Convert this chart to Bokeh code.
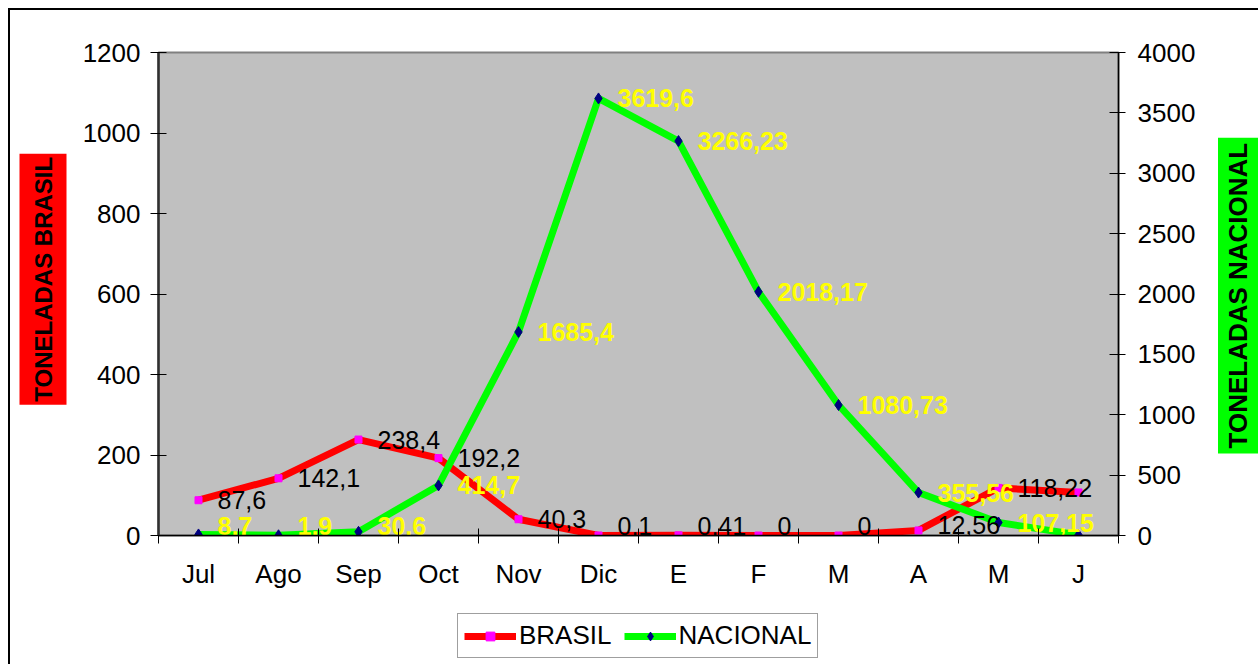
from bokeh.plotting import figure
from bokeh.layouts import row, column
from bokeh.models import (Range1d, LinearAxis, FixedTicker, CustomJSTickFormatter,
                          Label, Legend, LegendItem, ColumnDataSource)
from bokeh.core.properties import value
from bokeh.embed import file_html
from bokeh.resources import INLINE

# ---- data ----
months = ["Jul", "Ago", "Sep", "Oct", "Nov", "Dic", "E", "F", "M", "A", "M", "J"]
brasil = [87.6, 142.1, 238.4, 192.2, 40.3, 0.1, 0.41, 0, 0, 12.56, 118.22, 107.0]
nacional = [8.7, 1.9, 30.6, 414.7, 1685.4, 3619.6, 3266.23, 2018.17, 1080.73, 355.56, 107.15, 5.0]
brasil_labels = ["87,6", "142,1", "238,4", "192,2", "40,3", "0,1", "0,41", "0", "0", "12,56", "118,22", ""]
nacional_labels = ["8,7", "1,9", "30,6", "414,7", "1685,4", "3619,6", "3266,23", "2018,17", "1080,73", "355,56", "107,15", ""]
left_ticks = [0, 200, 400, 600, 800, 1000, 1200]
right_ticks = [0, 500, 1000, 1500, 2000, 2500, 3000, 3500, 4000]
left_title = "TONELADAS BRASIL"
right_title = "TONELADAS NACIONAL"
series_names = ["BRASIL", "NACIONAL"]

FONT = "Liberation Sans"
TICK_SIZE = "26px"
LEFT_MAX, RIGHT_MAX = 1200, 4000
FRAME_H = 590 - 42 - 65
xs = [i + 0.5 for i in range(len(months))]


# keep labels sitting on the zero line fully inside the plot area
def lift(vals, vmax):
    return [-max(0.0, 10 - v / vmax * FRAME_H) for v in vals]


src = ColumnDataSource(dict(x=xs, b=brasil, n=nacional, bl=brasil_labels, nl=nacional_labels,
                            bo=lift(brasil, LEFT_MAX), no=lift(nacional, RIGHT_MAX)))


def blank(width, height, x0, x1, y0, y1):
    f = figure(width=width, height=height, output_backend="svg", toolbar_location=None,
               x_range=Range1d(x0, x1), y_range=Range1d(y1, y0),
               x_axis_type=None, y_axis_type=None,
               min_border_left=0, min_border_right=0, min_border_top=0, min_border_bottom=0)
    f.xgrid.visible = False
    f.ygrid.visible = False
    f.outline_line_color = None
    f.background_fill_color = "white"
    f.border_fill_color = "white"
    return f


# ---- main chart ----
p = figure(width=1122, height=590, output_backend="svg", toolbar_location=None,
           x_range=Range1d(0, len(months)), y_range=Range1d(0, LEFT_MAX),
           min_border_left=80, min_border_right=82, min_border_top=42, min_border_bottom=65)
p.extra_y_ranges = {"nac": Range1d(0, RIGHT_MAX)}
p.background_fill_color = "#C0C0C0"
p.border_fill_color = "white"
p.outline_line_color = "#808080"
p.outline_line_width = 2
p.xgrid.visible = False
p.ygrid.visible = False

xa = p.xaxis[0]
xa.ticker = FixedTicker(ticks=xs, minor_ticks=list(range(len(months) + 1)))
xa.formatter = CustomJSTickFormatter(args=dict(labels=months),
                                     code="return labels[Math.floor(tick)] || '';")
xa.major_tick_in = 0
xa.major_tick_out = 0
xa.minor_tick_in = 7
xa.minor_tick_out = 8
xa.minor_tick_line_color = "black"
xa.axis_line_color = "black"
xa.axis_line_width = 1.5
xa.major_label_text_font = FONT
xa.major_label_text_font_size = TICK_SIZE
xa.major_label_text_color = "black"
xa.major_label_standoff = 15

ya = p.yaxis[0]
ya.ticker = FixedTicker(ticks=left_ticks)
ya.minor_tick_line_color = None
ya.major_tick_in = 8
ya.major_tick_out = 8
ya.axis_line_color = "#303030"
ya.axis_line_width = 2.5
ya.major_label_text_font = FONT
ya.major_label_text_font_size = TICK_SIZE
ya.major_label_text_color = "black"
ya.major_label_standoff = 10

ra = LinearAxis(y_range_name="nac", ticker=FixedTicker(ticks=right_ticks))
ra.minor_tick_line_color = None
ra.major_tick_in = 9
ra.major_tick_out = 7
ra.axis_line_color = "black"
ra.axis_line_width = 1.5
ra.major_label_text_font = FONT
ra.major_label_text_font_size = TICK_SIZE
ra.major_label_text_color = "black"
ra.major_label_standoff = 12
p.add_layout(ra, "right")

p.line("x", "b", source=src, line_color="#FF0000", line_width=7)
p.scatter("x", "b", source=src, marker="square", size=7,
          fill_color="#FF00FF", line_color="#FF00FF")
p.line("x", "n", source=src, line_color="#00FF00", line_width=7, y_range_name="nac")
p.scatter("x", "n", source=src, marker="diamond", size=11,
          fill_color="#000080", line_color="#000080", y_range_name="nac")

p.text("x", "b", text="bl", source=src, x_offset=19, y_offset="bo",
       text_align="left", text_baseline="middle",
       text_font=value(FONT), text_font_size="25px", text_color="black")
p.text("x", "n", text="nl", source=src, x_offset=19, y_offset="no",
       text_align="left", text_baseline="middle",
       text_font=value(FONT), text_font_size="25px", text_font_style="bold",
       text_color="#FFFF00", y_range_name="nac")

# ---- side title strips (coordinates = page pixels) ----
lt = blank(68, 590, 10, 78, 10, 600)
lt.add_layout(Label(x=42.5, y=287, text=left_title, angle=90, angle_units="deg",
                    text_align="center", text_baseline="middle",
                    text_font=FONT, text_font_size="24px", text_font_style="bold",
                    text_color="black", background_fill_color="#FF0000",
                    padding=dict(left=3, right=3, top=10, bottom=10)))

rt = blank(58, 590, 1200, 1258, 10, 600)
rt.add_layout(Label(x=1237.5, y=307, text=right_title, angle=90, angle_units="deg",
                    text_align="center", text_baseline="middle",
                    text_font=FONT, text_font_size="26px", text_font_style="bold",
                    text_color="black", background_fill_color="#00FF00",
                    padding=dict(left=5, right=5, top=5, bottom=5)))

# ---- legend strip: series renderers whose data lies outside this strip's view ----
lg = blank(1248, 64, -2, -1, -2, -1)
l1 = lg.line("x", "b", source=src, line_color="#FF0000", line_width=7)
s1 = lg.scatter("x", "b", source=src, marker="square", size=7,
                fill_color="#FF00FF", line_color="#FF00FF")
l2 = lg.line("x", "n", source=src, line_color="#00FF00", line_width=7)
s2 = lg.scatter("x", "n", source=src, marker="diamond", size=11,
                fill_color="#000080", line_color="#000080")
legend = Legend(items=[LegendItem(label=series_names[0], renderers=[l1, s1]),
                       LegendItem(label=series_names[1], renderers=[l2, s2])],
                orientation="horizontal", location=(447, 6),
                glyph_width=52, glyph_height=22, label_standoff=3, spacing=12,
                padding=6, margin=0,
                label_text_font=FONT, label_text_font_size="26px", label_text_color="black",
                border_line_color="#404040", border_line_width=1.5,
                background_fill_color="white")
lg.add_layout(legend, "center")

layout = column(row(lt, p, rt), lg)
layout.styles = {"margin-left": "8px", "margin-top": "8px",
                 "border-left": "2px solid black", "border-top": "2px solid black"}

open("out.html", "w").write(file_html(layout, INLINE))
